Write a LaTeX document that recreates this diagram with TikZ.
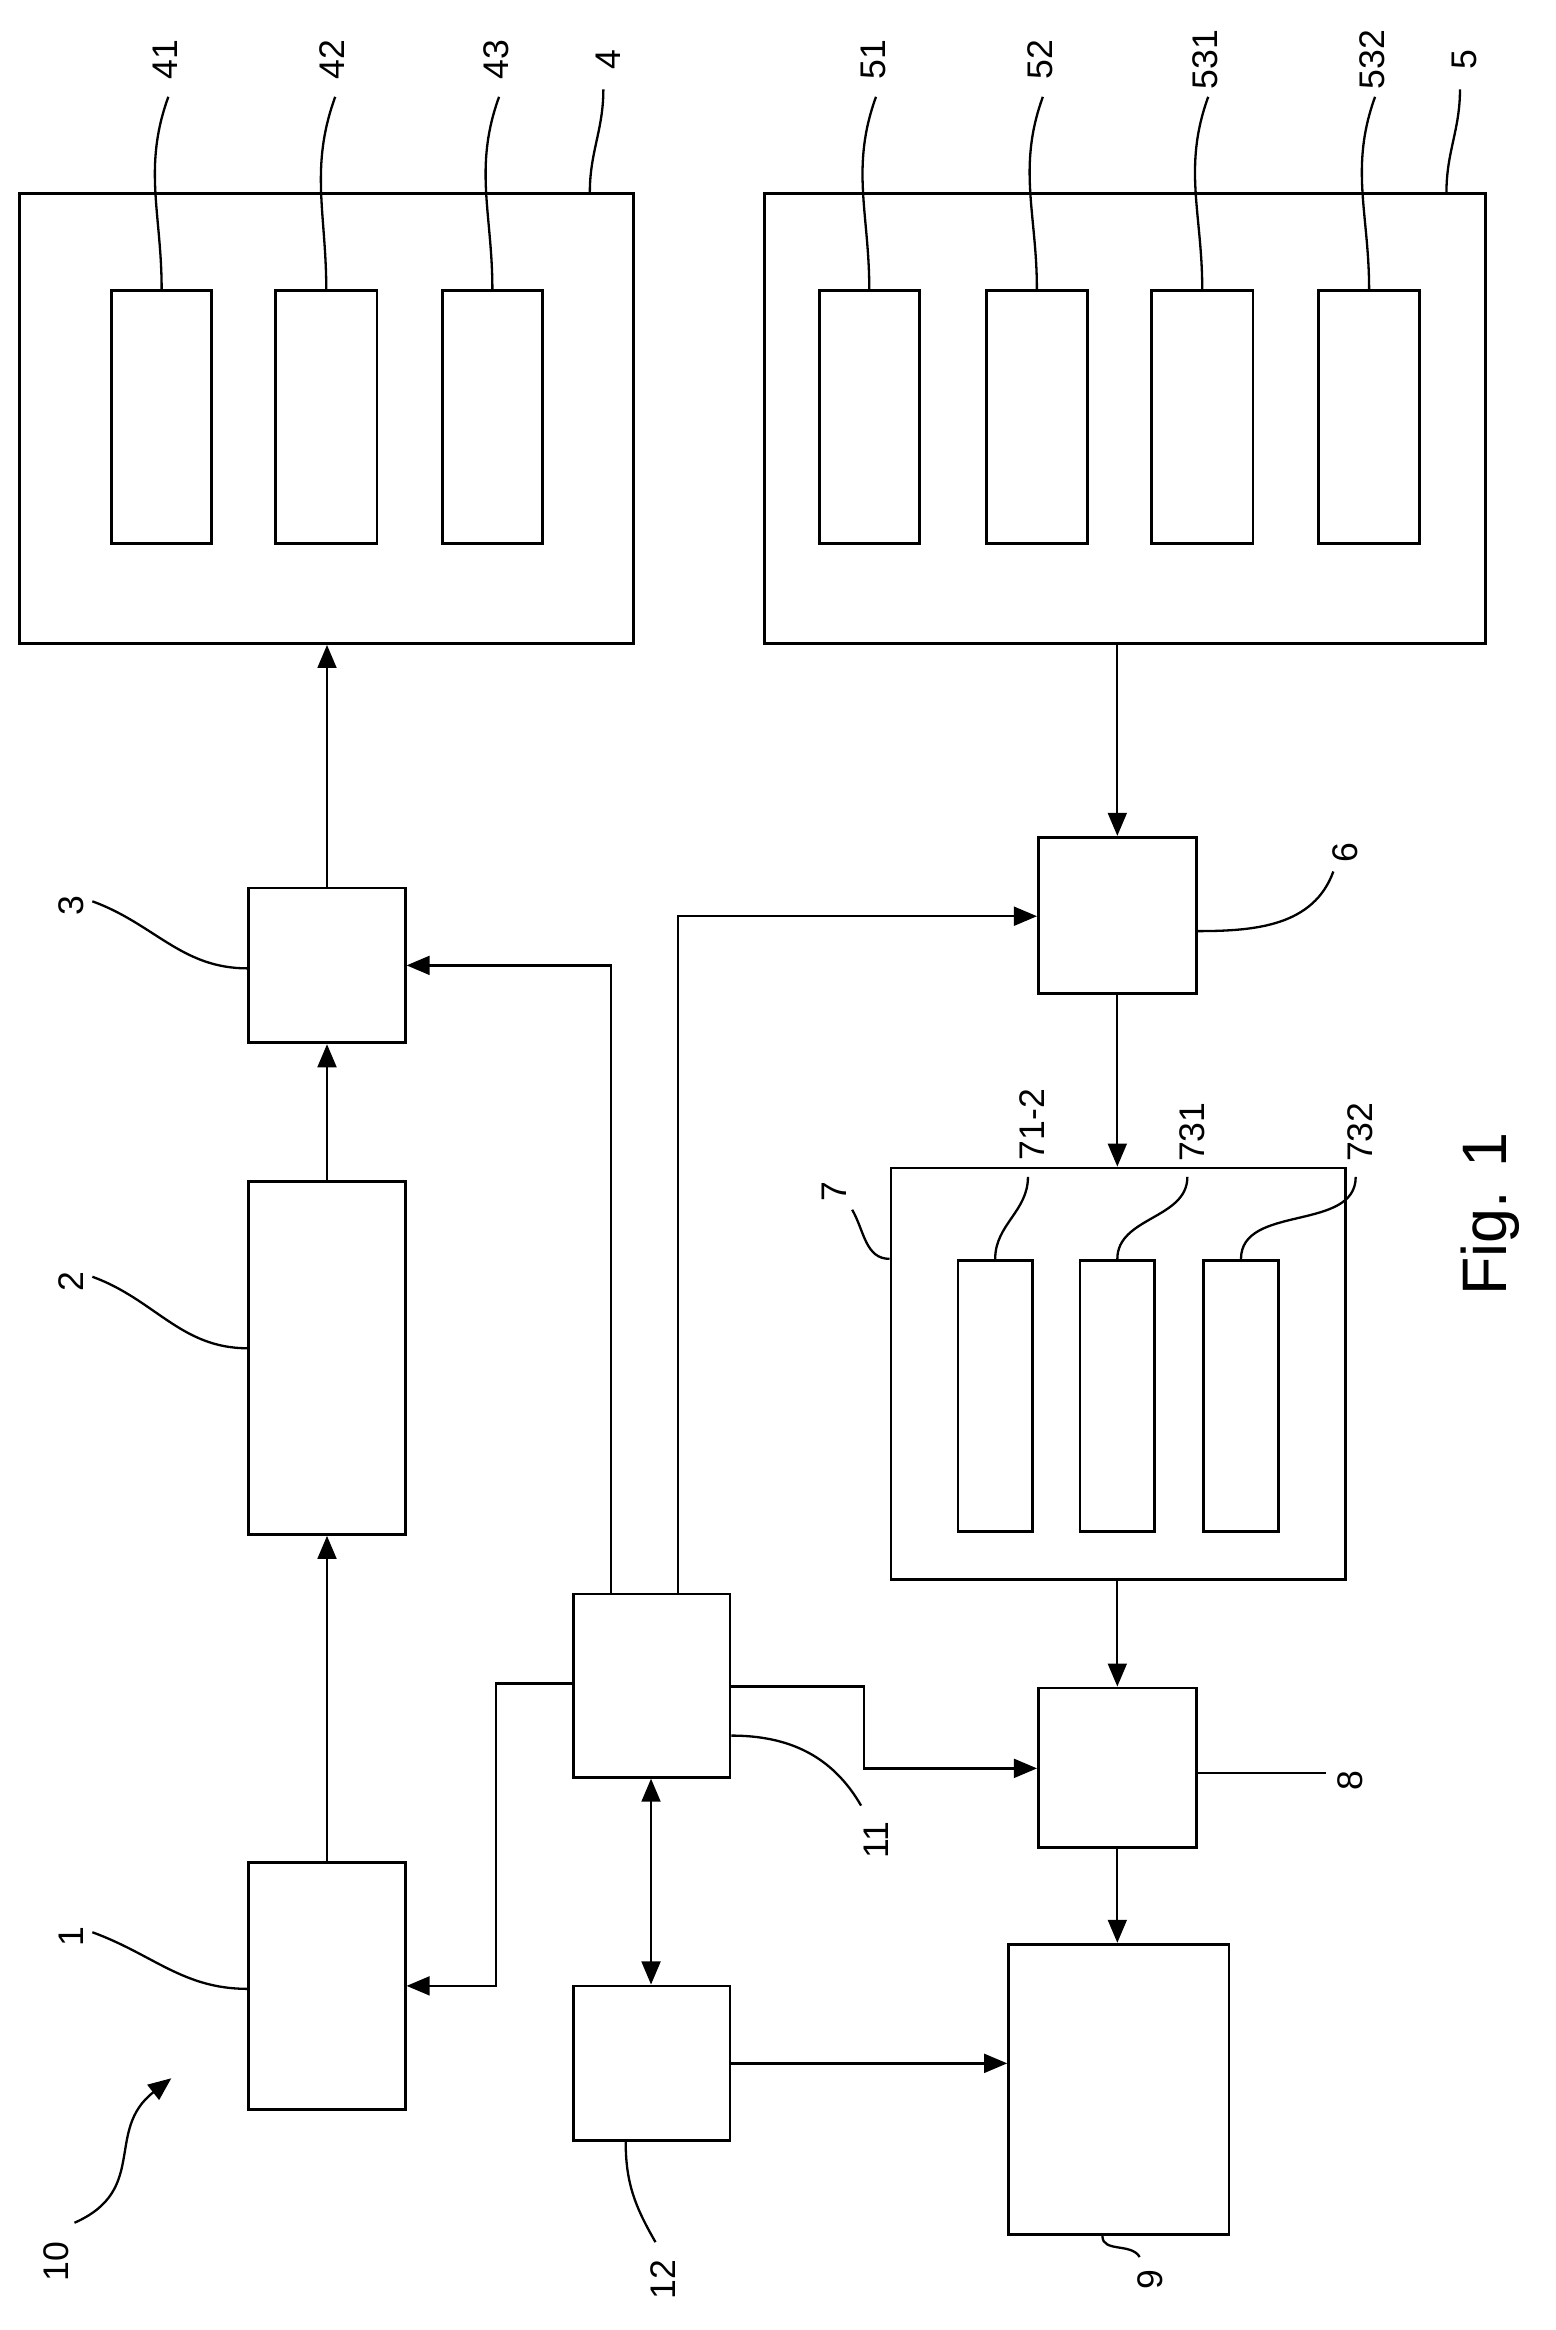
\documentclass[tikz,border=0pt]{standalone}
\usepackage{fontspec}
\setmainfont{Liberation Sans}
\usetikzlibrary{arrows.meta}
\tikzset{
	% boxes and labels of the block diagram
	blk/.style={rectangle,draw,line width=1.3pt,inner sep=0pt},
	lbl/.style={rotate=90,inner sep=1pt,font=\fontsize{17}{19}\selectfont},
	conn/.style={line width=1.1pt,-{Triangle[length=11pt,width=9pt]}},
	lead/.style={line width=1.1pt}
}
% block from corner (x1,y1) to corner (x2,y2)
\newcommand\blk[5]{\node[blk,minimum width={(#4-#2)*0.025cm},minimum height={(#5-#3)*0.025cm}] (#1) at ({(#2+#4)/2},{(#3+#5)/2}) {};}
\begin{document}
\begin{tikzpicture}[x=0.025cm,y=-0.025cm]
			\useasboundingbox (0,0) rectangle (1044,1564);
			% outer blocks
			\blk{b4}{13}{130}{425}{432}
			\blk{b41}{75}{195}{142}{365}
			\blk{b42}{185}{195}{253}{365}
			\blk{b43}{297}{195}{364}{365}
			\blk{b5}{513}{130}{997}{432}
			\blk{b51}{550}{195}{617}{365}
			\blk{b52}{662}{195}{730}{365}
			\blk{b531}{773}{195}{841}{365}
			\blk{b532}{885}{195}{953}{365}
			\blk{b3}{167}{596}{272}{700}
			\blk{b2}{167}{793}{272}{1030}
			\blk{b1}{167}{1250}{272}{1416}
			\blk{b6}{697}{562}{803}{667}
			\blk{b7}{598}{784}{903}{1060}
			\blk{b712}{643}{846}{693}{1028}
			\blk{b731}{725}{846}{775}{1028}
			\blk{b732}{808}{846}{858}{1028}
			\blk{b8}{697}{1133}{803}{1240}
			\blk{b9}{677}{1305}{825}{1500}
			\blk{b11}{385}{1070}{490}{1193}
			\blk{b12}{385}{1333}{490}{1437}
			
			% signal flow
			\draw[conn] (b1.north) -- (b2.south);
			\draw[conn] (b2.north) -- (b3.south);
			\draw[conn] (b3.north) -- (b3.north |- b4.south);
			\draw[conn] (b6.north |- b5.south) -- (b6.north);
			\draw[conn] (b6.south) -- (b7.north -| b6.south);
			\draw[conn] (b7.south -| b8.north) -- (b8.north);
			\draw[conn] (b8.south) -- (b9.north -| b8.south);
			\draw[conn] (b11.north -| 410,0) |- (b3.east |- 0,648);
			\draw[conn] (b11.north -| 455,0) |- (b6.west |- 0,615);
			\draw[conn] (b11.west |- 0,1130) -| (333,1333) -- (b1.east |- 0,1333);
			\draw[conn] (b11.east |- 0,1132) -| (580,1187) -- (b8.west |- 0,1187);
			\draw[conn,{Triangle[length=11pt,width=9pt]}-{Triangle[length=11pt,width=9pt]}] (b11.south -| 437,0) -- (b12.north -| 437,0);
			\draw[conn] (b12.east |- 0,1385) -- (b9.west |- 0,1385);
			
			% reference numerals
			\foreach \n/\x in {41/108,42/220,43/330,51/583,52/695,531/806,532/918}{
				\node[lbl] (l\n) at (\x+3,40) {\n};
				\draw[lead] (b\n.north) to[out=90,in=-110] (\x+5,65);
			}
			\node[lbl] (l4) at (408,40) {4};
			\draw[lead] (b4.north east) ++(-30,0) to[out=90,in=-90] (405,60);
			\node[lbl] (l5) at (983,40) {5};
			\draw[lead] (b5.north east) ++(-27,0) to[out=90,in=-90] (980,60);
			\node[lbl] (l3) at (48,608) {3};
			\draw[lead] (b3.west |- 0,650) to[out=180,in=-20] (62,605);
			\node[lbl] (l2) at (48,860) {2};
			\draw[lead] (b2.west |- 0,905) to[out=180,in=-20] (62,857);
			\node[lbl] (l1) at (48,1300) {1};
			\draw[lead] (b1.west |- 0,1335) to[out=180,in=-20] (62,1297);
			\node[lbl] (l7) at (560,800) {7};
			\draw[lead] (b7.west |- 0,845) to[out=180,in=-60] (572,812);
			\foreach \n/\x/\lx in {712/668/690,731/750/797,732/833/910}{
				\draw[lead] (b\n.north) to[out=90,in=-90] (\lx,790);
			}
			\node[lbl] (l712) at (693,755) {71-2};
			\node[lbl] (l731) at (800,760) {731};
			\node[lbl] (l732) at (913,760) {732};
			\node[lbl] (l6) at (903,572) {6};
			\draw[lead] (b6.east |- 0,625) to[out=0,in=-110] (895,585);
			\node[lbl] (l8) at (906,1195) {8};
			\draw[lead] (b8.east |- 0,1190) -- (890,1190);
			\node[lbl] (l11) at (588,1235) {11};
			\draw[lead] (b11.east |- 0,1165) to[out=0,in=120] (578,1212);
			\node[lbl] (l12) at (445,1530) {12};
			\draw[lead] (b12.south -| 420,0) to[out=-90,in=120] (440,1505);
			\node[lbl] (l9) at (772,1530) {9};
			\draw[lead] (b9.south -| 740,0) to[out=-90,in=120] (765,1515);
			\node[lbl] (l10) at (38,1518) {10};
			\draw[conn] (50,1492) .. controls (100,1470) and (70,1430) .. (115,1395);
			\node[lbl,font=\fontsize{30}{34}\selectfont] (fig) at (1000,815) {Fig. 1};
		\end{tikzpicture}
\end{document}
